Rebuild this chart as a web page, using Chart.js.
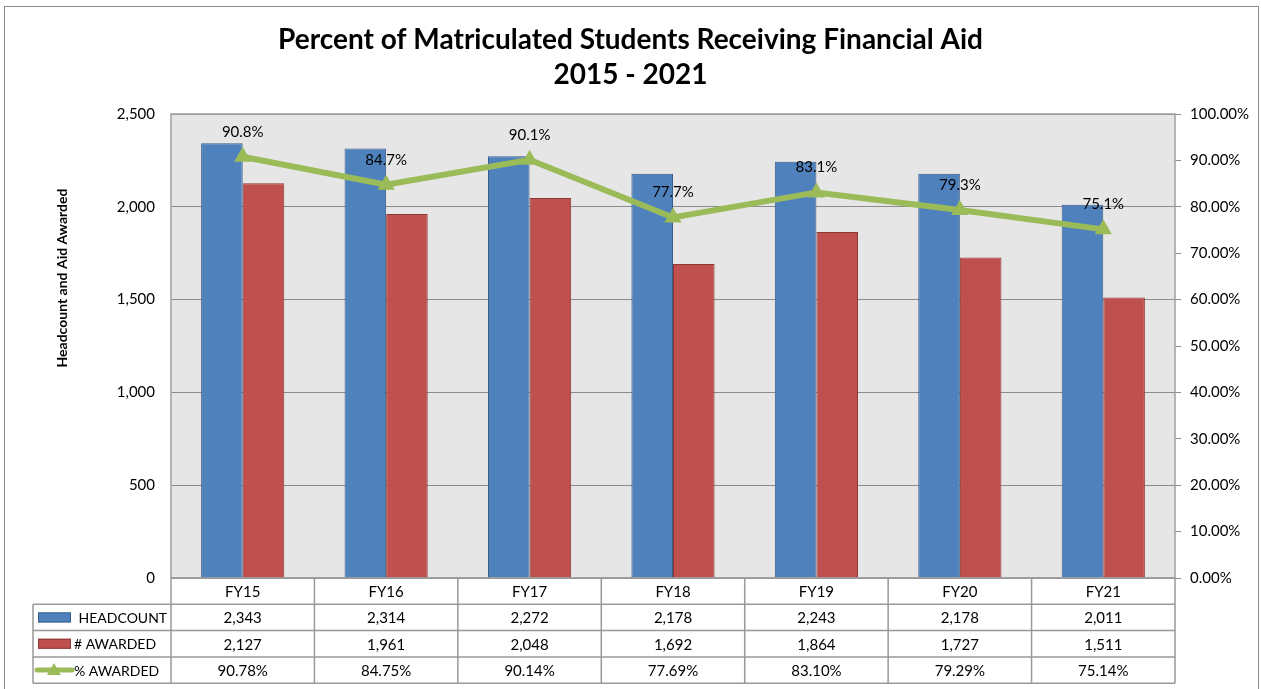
<!DOCTYPE html>
<html lang="en">
<head>
<meta charset="UTF-8">
<title>Percent of Matriculated Students Receiving Financial Aid</title>
<script src="https://cdn.jsdelivr.net/npm/chart.js"></script>
<style>
  html, body { margin: 0; padding: 0; background: #fff; }
  #wrap { width: 1261px; height: 689px; }
</style>
</head>
<body>
<div id="wrap"><canvas id="aidChart" width="1261" height="689"></canvas></div>
<script>
// data
const years = ['FY15', 'FY16', 'FY17', 'FY18', 'FY19', 'FY20', 'FY21'];
const headcount = [2343, 2314, 2272, 2178, 2243, 2178, 2011];
const awarded = [2127, 1961, 2048, 1692, 1864, 1727, 1511];
const pctAwarded = [90.78, 84.75, 90.14, 77.69, 83.10, 79.29, 75.14];
const pctLabels = ['90.8%', '84.7%', '90.1%', '77.7%', '83.1%', '79.3%', '75.1%'];
const leftTicks = [0, 500, 1000, 1500, 2000, 2500];
const rightTicks = [0, 10, 20, 30, 40, 50, 60, 70, 80, 90, 100];
const rowNames = [' HEADCOUNT', '# AWARDED', '% AWARDED'];

const FONT = 'Lato, "Open Sans", sans-serif';
const BLUE = '#4f81bd', RED = '#c0504d', GREEN = '#9bbb59';

Chart.defaults.font.family = FONT;
Chart.defaults.color = '#000';

const fmtNum = v => v.toLocaleString('en-US');

// background, outer border, plot area fill
const framePlugin = {
  id: 'frame',
  beforeDraw(chart) {
    const ctx = chart.ctx, a = chart.chartArea;
    ctx.save();
    ctx.fillStyle = '#fff';
    ctx.fillRect(0, 0, chart.width, chart.height);
    ctx.strokeStyle = '#8c8c8c';
    ctx.lineWidth = 1;
    ctx.strokeRect(4.5, 6.5, 1254, 700);
    ctx.fillStyle = '#e6e6e6';
    ctx.fillRect(a.left, a.top, a.right - a.left, a.bottom - a.top);
    ctx.restore();
  },
  beforeDatasetsDraw(chart) {
    const ctx = chart.ctx, a = chart.chartArea;
    ctx.save();
    ctx.strokeStyle = '#a0a0a0';
    ctx.lineWidth = 1.5;
    ctx.strokeRect(a.left, a.top, a.right - a.left, a.bottom - a.top);
    // y axis title
    ctx.translate(62, 278);
    ctx.rotate(-Math.PI / 2);
    ctx.font = 'bold 14px ' + FONT;
    ctx.fillStyle = '#000';
    ctx.textAlign = 'center';
    ctx.textBaseline = 'middle';
    ctx.fillText('Headcount and Aid Awarded', 0, 0);
    ctx.restore();
  }
};

// % labels over the line points
const pointLabelPlugin = {
  id: 'pointLabels',
  afterDatasetsDraw(chart) {
    const ctx = chart.ctx;
    const meta = chart.getDatasetMeta(2);
    ctx.save();
    ctx.font = '15px ' + FONT;
    ctx.fillStyle = '#000';
    ctx.textAlign = 'center';
    ctx.textBaseline = 'middle';
    meta.data.forEach((pt, i) => {
      ctx.fillText(pctLabels[i], pt.x, pt.y - 25);
    });
    ctx.restore();
  }
};

// data table under the plot
const tablePlugin = {
  id: 'dataTable',
  afterDraw(chart) {
    const ctx = chart.ctx, a = chart.chartArea;
    const xs = chart.scales.x;
    const n = years.length;
    const top = a.bottom, rowH = 26.3;
    const labelLeft = 33;
    const edges = [a.left];
    for (let i = 0; i < n - 1; i++) {
      edges.push((xs.getPixelForValue(i) + xs.getPixelForValue(i + 1)) / 2);
    }
    edges.push(a.right);

    ctx.save();
    ctx.strokeStyle = '#999';
    ctx.lineWidth = 1.5;
    // horizontal lines
    ctx.beginPath();
    ctx.moveTo(a.left, top); ctx.lineTo(a.right, top);
    for (let r = 1; r <= 4; r++) {
      const y = top + r * rowH;
      ctx.moveTo(labelLeft, y); ctx.lineTo(a.right, y);
    }
    // vertical lines
    edges.forEach(x => { ctx.moveTo(x, top); ctx.lineTo(x, top + 4 * rowH); });
    ctx.moveTo(labelLeft, top + rowH); ctx.lineTo(labelLeft, top + 4 * rowH);
    ctx.stroke();

    ctx.font = '15px ' + FONT;
    ctx.fillStyle = '#000';
    ctx.textAlign = 'center';
    ctx.textBaseline = 'middle';
    const rows = [years, headcount.map(fmtNum), awarded.map(fmtNum), pctAwarded.map(v => v.toFixed(2) + '%')];
    rows.forEach((row, r) => {
      const cy = top + r * rowH + rowH / 2 + 1;
      row.forEach((txt, i) => ctx.fillText(txt, xs.getPixelForValue(i), cy));
    });

    // legend keys + row names
    const cy1 = top + rowH * 1.5, cy2 = top + rowH * 2.5, cy3 = top + rowH * 3.5;
    ctx.lineWidth = 1;
    ctx.fillStyle = BLUE; ctx.strokeStyle = '#385d8a';
    ctx.fillRect(38, cy1 - 5, 33, 10); ctx.strokeRect(38.5, cy1 - 4.5, 32, 9);
    ctx.fillStyle = RED; ctx.strokeStyle = '#8c3836';
    ctx.fillRect(38, cy2 - 5, 33, 10); ctx.strokeRect(38.5, cy2 - 4.5, 32, 9);
    ctx.strokeStyle = GREEN; ctx.lineWidth = 5; ctx.lineCap = 'round';
    ctx.beginPath(); ctx.moveTo(37, cy3); ctx.lineTo(72, cy3); ctx.stroke();
    ctx.fillStyle = GREEN;
    ctx.beginPath();
    ctx.moveTo(54, cy3 - 7); ctx.lineTo(61, cy3 + 5); ctx.lineTo(47, cy3 + 5); ctx.closePath(); ctx.fill();

    ctx.font = '14px ' + FONT;
    ctx.fillStyle = '#000';
    ctx.textAlign = 'left';
    ctx.fillText(rowNames[0], 75, cy1 + 1);
    ctx.fillText(rowNames[1], 74, cy2 + 1);
    ctx.fillText(rowNames[2], 74, cy3 + 1);
    ctx.restore();
  }
};

new Chart(document.getElementById('aidChart'), {
  data: {
    labels: years,
    datasets: [
      {
        type: 'bar', label: 'HEADCOUNT', data: headcount, yAxisID: 'y', order: 1,
        backgroundColor: BLUE, borderColor: '#385d8a', borderWidth: 1,
        categoryPercentage: 0.58, barPercentage: 1
      },
      {
        type: 'bar', label: '# AWARDED', data: awarded, yAxisID: 'y', order: 2,
        backgroundColor: RED, borderColor: '#8c3836', borderWidth: 1,
        categoryPercentage: 0.58, barPercentage: 1
      },
      {
        type: 'line', label: '% AWARDED', data: pctAwarded, yAxisID: 'y1', order: 0,
        borderColor: GREEN, borderWidth: 6, tension: 0,
        pointStyle: 'triangle', pointRadius: 10, pointHoverRadius: 10,
        pointBackgroundColor: GREEN, pointBorderColor: GREEN, pointBorderWidth: 0
      }
    ]
  },
  options: {
    responsive: false,
    animation: false,
    devicePixelRatio: 1,
    layout: { padding: { top: 0, left: 0, right: 0, bottom: 111 } },
    plugins: {
      legend: { display: false },
      tooltip: { enabled: false },
      title: {
        display: true,
        text: ['Percent of Matriculated Students Receiving Financial Aid', '2015 - 2021'],
        color: '#000',
        font: { family: FONT, size: 28, weight: 'bold', lineHeight: '35px' },
        padding: { top: 22, bottom: 22 }
      }
    },
    scales: {
      x: { display: false, offset: true },
      y: {
        position: 'left', min: 0, max: 2500,
        afterBuildTicks: s => { s.ticks = leftTicks.map(v => ({ value: v })); },
        afterFit: s => { s.width = 171; },
        ticks: { callback: v => fmtNum(v), font: { size: 15 }, padding: 16, color: '#000' },
        grid: { color: '#8c8c8c', lineWidth: 1, drawTicks: false },
        border: { display: false }
      },
      y1: {
        position: 'right', min: 0, max: 100,
        afterBuildTicks: s => { s.ticks = rightTicks.map(v => ({ value: v })); },
        afterFit: s => { s.width = 86; },
        ticks: { callback: v => v.toFixed(2) + '%', font: { size: 15 }, padding: 9, color: '#000' },
        grid: { drawOnChartArea: false, tickLength: 6, color: '#8c8c8c' },
        border: { display: false }
      }
    }
  },
  plugins: [framePlugin, pointLabelPlugin, tablePlugin]
});
</script>
</body>
</html>
